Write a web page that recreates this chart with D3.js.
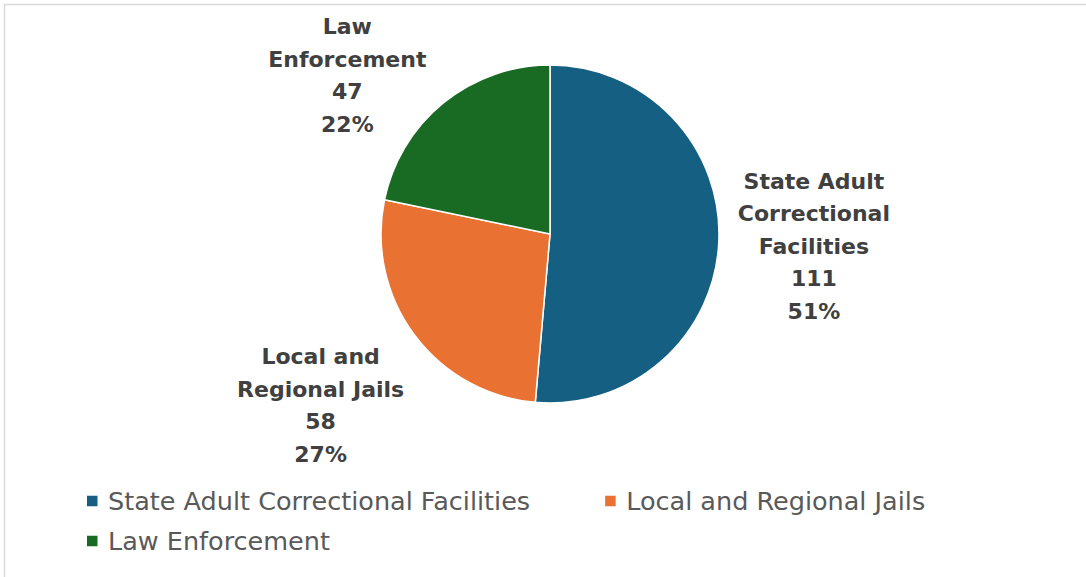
<!DOCTYPE html>
<html>
<head>
<meta charset="utf-8">
<script src="https://cdn.jsdelivr.net/npm/d3@7"></script>
<style>
  html, body { margin: 0; padding: 0; background: #fff; }
  svg { display: block; }
</style>
</head>
<body>
<svg id="chart" width="1086" height="577"></svg>
<script>
// Share of cases by setting
const categories = ["State Adult Correctional Facilities", "Local and Regional Jails", "Law Enforcement"];
const values = [111, 58, 47];
const labelLines = [
  ["State Adult", "Correctional", "Facilities"],
  ["Local and", "Regional Jails"],
  ["Law", "Enforcement"]
];
const colors = ["#156082", "#E97132", "#196B24"];

const W = 1086, H = 577;
const cx = 550, cy = 234, R = 169;
const svg = d3.select("#chart");

// chart frame
svg.append("rect")
  .attr("x", 4.5).attr("y", 4.5)
  .attr("width", W + 20).attr("height", H + 20)
  .attr("fill", "#fff")
  .attr("stroke", "#d9d9d9").attr("stroke-width", 1.5);

const total = d3.sum(values);
const pie = d3.pie().sort(null).value(d => d)(values);
const arc = d3.arc().innerRadius(0).outerRadius(R);

const g = svg.append("g").attr("transform", `translate(${cx},${cy})`);
g.selectAll("path.slice")
  .data(pie)
  .join("path")
  .attr("class", "slice")
  .attr("d", arc)
  .attr("fill", (d, i) => colors[i])
  .attr("stroke", "#fff")
  .attr("stroke-width", 1.5)
  .attr("stroke-linejoin", "round");

// data labels: category, value, percent, placed outside the pie
const labelFont = "'DejaVu Sans', sans-serif";
const labelSize = 22, lineH = 32.5;
const gap = 16, topLimit = 18;
pie.forEach((d, i) => {
  const lines = labelLines[i].concat([String(values[i]), Math.round(values[i] / total * 100) + "%"]);
  const t = svg.append("text")
    .attr("font-family", labelFont)
    .attr("font-weight", 700)
    .attr("font-size", labelSize)
    .attr("fill", "#404040")
    .attr("text-anchor", "middle");
  const spans = lines.map((s, k) => t.append("tspan").text(s));
  const w = d3.max(spans, s => s.node().getComputedTextLength());
  const capH = labelSize * 0.73;
  const h = capH + lineH * (lines.length - 1);
  const a = (d.startAngle + d.endAngle) / 2;
  const ux = Math.sin(a), uy = -Math.cos(a);
  const dist = R + gap + Math.abs(ux) * w / 2 + Math.abs(uy) * h / 2;
  let x = cx + ux * dist, y = cy + uy * dist;
  if (y - h / 2 < topLimit) {
    // pushed down by the top edge: ease the label sideways, away from the pie
    y = topLimit + h / 2;
    const dy = y - cy;
    const xOnRing = cx + Math.sign(ux) * Math.sqrt(Math.max(dist * dist - dy * dy, 0));
    x = (x + xOnRing) / 2;
  }
  const top = y - h / 2;
  spans.forEach((s, k) => s.attr("x", x).attr("y", top + capH + k * lineH));
});

// legend
const legendFont = "'DejaVu Sans', sans-serif";
const legendSize = 25.5;
const lg = svg.append("g");
const lx0 = 87, ly0 = 501, rowH = 40, sw = 10.5, textGap = 10.5, colGap = 75;
let col2x = lx0;
categories.forEach((c, i) => {
  const row = i < 2 ? 0 : 1;
  const x = i === 1 ? col2x : lx0;
  const y = ly0 + row * rowH;
  lg.append("rect")
    .attr("x", x).attr("y", y - 5.25)
    .attr("width", sw).attr("height", sw)
    .attr("fill", colors[i]);
  lg.append("text")
    .attr("x", x + sw + textGap).attr("y", y + 9)
    .attr("font-family", legendFont)
    .attr("font-size", legendSize)
    .attr("fill", "#595959")
    .text(c)
    .each(function () {
      if (i === 0) col2x = x + sw + textGap + this.getComputedTextLength() + colGap;
    });
});
</script>
</body>
</html>
